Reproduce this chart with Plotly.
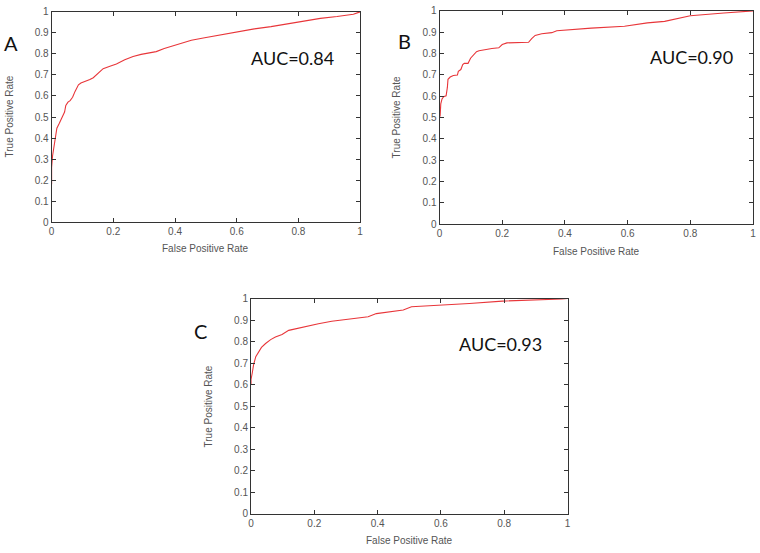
import plotly.graph_objects as go

# ---- data ----
fpr_a = [0.0, 0.0, 0.003, 0.008, 0.012, 0.017, 0.025, 0.033, 0.042, 0.046, 0.053, 0.06, 0.068,
         0.076, 0.087, 0.095, 0.108, 0.124, 0.135, 0.151, 0.167, 0.189, 0.21, 0.237, 0.264,
         0.29, 0.317, 0.339, 0.365, 0.387, 0.403, 0.453, 0.496, 0.55, 0.603, 0.657, 0.711,
         0.764, 0.818, 0.871, 0.925, 0.978, 1.0]
tpr_a = [0.18, 0.26, 0.315, 0.361, 0.408, 0.447, 0.47, 0.493, 0.524, 0.555, 0.571, 0.578, 0.594,
         0.622, 0.653, 0.662, 0.668, 0.678, 0.687, 0.71, 0.73, 0.741, 0.752, 0.772, 0.788,
         0.798, 0.806, 0.811, 0.826, 0.836, 0.842, 0.865, 0.877, 0.891, 0.907, 0.919, 0.93,
         0.943, 0.958, 0.969, 0.978, 0.989, 1.0]

fpr_b = [0.0, 0.002, 0.004, 0.008, 0.013, 0.021, 0.025, 0.027, 0.034, 0.044, 0.057, 0.06, 0.068,
         0.074, 0.079, 0.091, 0.099, 0.11, 0.118, 0.126, 0.146, 0.167, 0.189, 0.2, 0.215,
         0.247, 0.284, 0.294, 0.305, 0.326, 0.358, 0.374, 0.405, 0.484, 0.59, 0.663,
         0.718, 0.8, 0.907, 0.98, 1.0]
tpr_b = [0.50, 0.51, 0.564, 0.587, 0.598, 0.602, 0.641, 0.679, 0.69, 0.697, 0.699, 0.717, 0.725,
         0.748, 0.754, 0.754, 0.778, 0.797, 0.809, 0.813, 0.82, 0.824, 0.827, 0.842, 0.85,
         0.853, 0.853, 0.87, 0.885, 0.893, 0.898, 0.907, 0.911, 0.919, 0.928, 0.944,
         0.951, 0.977, 0.99, 0.997, 1.0]

fpr_c = [0.0, 0.0, 0.004, 0.008, 0.015, 0.023, 0.033, 0.046, 0.062, 0.077, 0.098, 0.119, 0.145,
         0.177, 0.213, 0.255, 0.297, 0.339, 0.37, 0.396, 0.418, 0.481, 0.507, 0.585, 0.69,
         0.794, 0.899, 0.982, 1.0]
tpr_c = [0.6, 0.624, 0.655, 0.692, 0.73, 0.748, 0.773, 0.791, 0.809, 0.821, 0.833, 0.852, 0.861,
         0.874, 0.883, 0.894, 0.902, 0.909, 0.915, 0.93, 0.935, 0.947, 0.962, 0.968, 0.977,
         0.988, 0.992, 0.998, 1.0]

panel_labels = ["A", "B", "C"]
auc_labels = ["AUC=0.84", "AUC=0.90", "AUC=0.93"]
x_ticks = [0, 0.2, 0.4, 0.6, 0.8, 1]
x_tick_text = ["0", "0.2", "0.4", "0.6", "0.8", "1"]
y_ticks = [0, 0.1, 0.2, 0.3, 0.4, 0.5, 0.6, 0.7, 0.8, 0.9, 1]
y_tick_text = ["0", "0.1", "0.2", "0.3", "0.4", "0.5", "0.6", "0.7", "0.8", "0.9", "1"]
x_title = "False Positive Rate"
y_title = "True Positive Rate"

W, H = 760, 553
# plot boxes in pixels: (left, right, top, bottom)
boxes = [(49, 360, 6, 221), (440, 756, 5, 223), (250, 569, 299, 519)]
series = [(fpr_a, tpr_a), (fpr_b, tpr_b), (fpr_c, tpr_c)]

fig = go.Figure()
tick_font = dict(family="Liberation Sans, Arial, sans-serif", size=10, color="#555555")

for i, ((fx, ty), (l, r, t, b)) in enumerate(zip(series, boxes)):
    n = "" if i == 0 else str(i + 1)
    fig.add_trace(go.Scatter(x=fx, y=ty, mode="lines",
                             line=dict(color="#e8363a", width=1.1),
                             xaxis="x" + n, yaxis="y" + n, showlegend=False,
                             hoverinfo="skip"))
    common = dict(showgrid=False, zeroline=False, showline=True, linecolor="#333333",
                  linewidth=1, mirror="ticks", ticks="inside", ticklen=4,
                  tickcolor="#333333", tickfont=tick_font, fixedrange=True,
                  ticklabeloverflow="allow")
    fig.layout["xaxis" + n] = dict(domain=[l / W, r / W], range=[0, 1],
                                   tickvals=x_ticks, ticktext=x_tick_text,
                                   anchor="y" + n, **common)
    fig.layout["yaxis" + n] = dict(domain=[1 - b / H, 1 - t / H], range=[0, 1],
                                   tickvals=y_ticks, ticktext=y_tick_text,
                                   anchor="x" + n, **common)

annos = []
# axis titles
x_title_pos = [(204, 248), (598, 251), (410, 546)]
y_title_pos = [(7, 113), (397, 114), (207, 409)]
for (xx, yy) in x_title_pos:
    annos.append(dict(x=xx / W, y=1 - yy / H, xref="paper", yref="paper", text=x_title,
                      showarrow=False, font=tick_font, xanchor="center", yanchor="middle"))
for (xx, yy) in y_title_pos:
    annos.append(dict(x=xx / W, y=1 - yy / H, xref="paper", yref="paper", text=y_title,
                      showarrow=False, font=tick_font, textangle=-90,
                      xanchor="center", yanchor="middle"))
# panel letters
letter_pos = [(8, 38), (405, 36), (199, 332)]
for lab, (xx, yy) in zip(panel_labels, letter_pos):
    annos.append(dict(x=xx / W, y=1 - yy / H, xref="paper", yref="paper", text=lab,
                      showarrow=False, font=dict(family="Lato, Open Sans, sans-serif",
                                                 size=20, color="#111111"),
                      xanchor="center", yanchor="middle"))
auc_pos = [(292, 53), (694, 52), (501, 345)]
for lab, (xx, yy) in zip(auc_labels, auc_pos):
    annos.append(dict(x=xx / W, y=1 - yy / H, xref="paper", yref="paper", text=lab,
                      showarrow=False, font=dict(family="Lato, Open Sans, sans-serif",
                                                 size=18, color="#111111"),
                      xanchor="center", yanchor="middle"))

fig.update_layout(width=W, height=H, margin=dict(l=0, r=0, t=0, b=0),
                  paper_bgcolor="white", plot_bgcolor="white", annotations=annos)
fig.write_html("out.html", config={"displayModeBar": False},
               post_script="document.body.style.margin='0px';document.body.style.overflow='hidden';")
